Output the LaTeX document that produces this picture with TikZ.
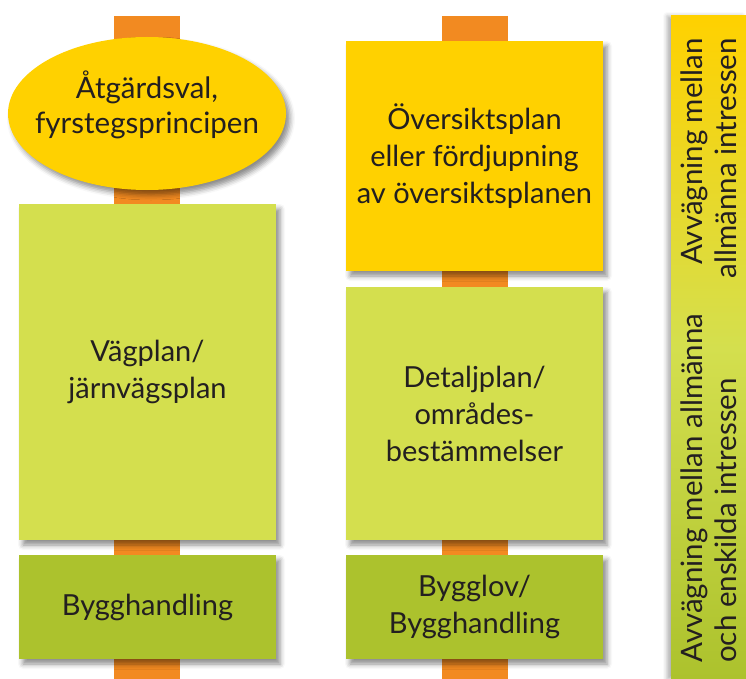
\documentclass[tikz,border=0pt]{standalone}
\usepackage{fontspec}
\setmainfont{Lato}
\usetikzlibrary{shapes.geometric,shadows.blur,backgrounds}

\definecolor{barorange}{HTML}{F28A21}
\definecolor{planyellow}{HTML}{FFD100}
\definecolor{planlight}{HTML}{D4DF4E}
\definecolor{plandark}{HTML}{ACC22D}
\definecolor{textgray}{HTML}{231F20}

\tikzset{
	stage/.style={rectangle, minimum width=257pt, inner sep=0pt, align=center,
		text=textgray, font=\fontsize{29}{37}\selectfont,
		blur shadow={shadow xshift=4pt, shadow yshift=-5pt, shadow blur radius=5pt, shadow opacity=45}},
	bar/.style={line width=66pt, barorange},
	sidetext/.style={rotate=90, inner sep=0pt, text=textgray, font=\fontsize{29.5}{34}\selectfont},
}

\begin{document}
\begin{tikzpicture}[x=1pt, y=-1pt]
			%%%%% START %%%%%
			\useasboundingbox (0, 0) rectangle (746, 679);
			
			% left column
			\node (val) [stage, ellipse, fill=planyellow, minimum width=278pt, minimum height=153pt] at (147, 113.5) {};
			\node (valtext) [align=center, inner sep=0pt, text=textgray, font=\fontsize{29.5}{35}\selectfont]
				at (val.center) [yshift=9pt] {Åtgärdsval,\\fyrstegsprincipen};
			\node (vagplan) [stage, fill=planlight, minimum height=336pt] at (147.5, 372) {Vägplan/\\järnvägsplan};
			\node (bygg) [stage, fill=plandark, minimum height=104pt] at (147.5, 607) {Bygghandling};
			
			% middle column
			\node (oversikt) [stage, fill=planyellow, minimum height=230pt] at (474.5, 156) {Översiktsplan\\eller fördjupning\\av översiktsplanen};
			\node (detalj) [stage, fill=planlight, minimum height=253pt] at (474.5, 413.5) {Detaljplan/\\områdes-\\bestämmelser};
			\node (bygglov) [stage, fill=plandark, minimum height=104pt] at (474.5, 607) {Bygglov/\\Bygghandling};
			
			% right column
			\node (avvag) [rectangle, minimum width=75pt, minimum height=663pt, inner sep=0pt,
				top color=planyellow, bottom color=plandark, middle color=planlight,
				blur shadow={shadow xshift=-4pt, shadow yshift=0pt, shadow blur radius=4pt, shadow opacity=30}] at (708.5, 347.5) {};
			\node (allm) [sidetext, align=right, anchor=east] at (709, 38) {Avvägning mellan\\allmänna intressen};
			\node (ensk) [sidetext, align=left, anchor=west] at (709, 663) {Avvägning mellan allmänna\\och enskilda intressen};
			
			% orange bars behind
			\coordinate (ltop) at (147, 16);
			\coordinate (lbot) at (147, 679);
			\coordinate (mtop) at (475, 16);
			\coordinate (mbot) at (475, 679);
			\begin{scope}[on background layer]
				\draw[bar] (ltop) -- (lbot);
				\draw[bar] (mtop) -- (mbot);
			\end{scope}
			
			%%%%% END %%%%%
\end{tikzpicture}
\end{document}
